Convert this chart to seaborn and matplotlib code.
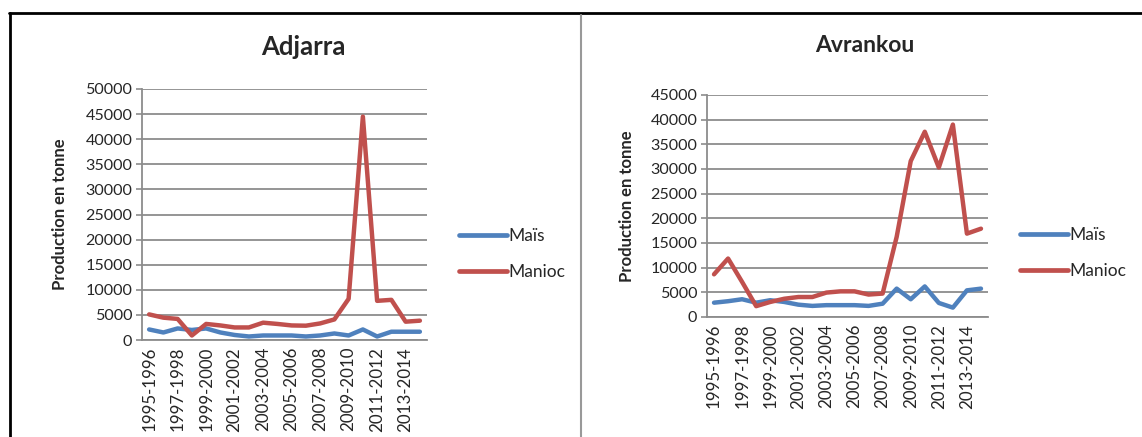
import numpy as np
import pandas as pd
import seaborn as sns
import matplotlib.pyplot as plt
from matplotlib.lines import Line2D

# Agricultural campaigns (20 seasons)
campagnes = [f"{y}-{y + 1}" for y in range(1995, 2015)]

# Production (tonnes) - Adjarra
adjarra_mais = [2100, 1500, 2300, 2000, 2300, 1500, 1000, 700, 900, 900,
                900, 700, 900, 1300, 900, 2100, 700, 1650, 1650, 1650]
adjarra_manioc = [5100, 4450, 4200, 900, 3200, 2900, 2500, 2500, 3450, 3200,
                  2900, 2850, 3300, 4100, 8200, 44500, 7800, 8000, 3650, 3850]

# Production (tonnes) - Avrankou
avrankou_mais = [2900, 3200, 3600, 2900, 3400, 3050, 2500, 2250, 2400, 2400,
                 2400, 2250, 2700, 5750, 3600, 6200, 2850, 1900, 5400, 5750]
avrankou_manioc = [8650, 11850, 7100, 2200, 3050, 3700, 4050, 4050, 4950, 5200,
                   5200, 4550, 4750, 16250, 31600, 37550, 30300, 39000, 16900, 17900]

cultures = ["Maïs", "Manioc"]
couleurs = ["#4F81BD", "#C0504D"]


def long_table(mais, manioc):
    n = len(campagnes)
    return pd.DataFrame({
        "idx": list(range(n)) * 2,
        "Culture": [cultures[0]] * n + [cultures[1]] * n,
        "Production": list(mais) + list(manioc),
    })


sns.set_theme(style="white")
plt.rcParams["font.family"] = ["Lato", "DejaVu Sans"]

W, H = 1142, 437
fig = plt.figure(figsize=(W / 100, H / 100), dpi=100)


def px_axes(x0, y0, x1, y1):
    return fig.add_axes([x0 / W, 1 - y1 / H, (x1 - x0) / W, (y1 - y0) / H])


panels = [
    dict(title="Adjarra", data=long_table(adjarra_mais, adjarra_manioc),
         box=(142, 89, 427, 340), ymax=50000, title_xy=(303, 47), tsize=18.5,
         ylab_x=60, leg=(459, 228)),
    dict(title="Avrankou", data=long_table(avrankou_mais, avrankou_manioc),
         box=(707, 95, 988, 317), ymax=45000, title_xy=(865, 46), tsize=16.5,
         ylab_x=627, leg=(1020, 227)),
]

grid_col = "#8C8C8C"
for p in panels:
    ax = px_axes(*p["box"])
    sns.lineplot(data=p["data"], x="idx", y="Production", hue="Culture",
                 hue_order=cultures, palette=couleurs, linewidth=3.2,
                 ax=ax, legend=False)
    ax.set_xlim(-0.5, len(campagnes) - 0.5)
    ax.set_ylim(0, p["ymax"])
    ax.set_yticks(np.arange(0, p["ymax"] + 1, 5000))
    ax.yaxis.grid(True, color=grid_col, linewidth=1.3)
    ax.xaxis.grid(False)
    ax.set_xticks(range(0, len(campagnes), 2))
    ax.set_xticklabels(campagnes[::2], rotation=90, fontsize=12.2)
    ax.tick_params(axis="y", labelsize=11.6, length=4, color=grid_col,
                   width=1.2, left=True, pad=3)
    ax.tick_params(axis="x", length=0, pad=5)
    for s in ["top", "right"]:
        ax.spines[s].set_visible(False)
    for s in ["left", "bottom"]:
        ax.spines[s].set_color(grid_col)
        ax.spines[s].set_linewidth(1.3)
    ax.set_xlabel("")
    ax.set_ylabel("")
    fig.text(p["ylab_x"] / W, 1 - ((p["box"][1] + p["box"][3]) / 2) / H,
             "Production en tonne", rotation=90, ha="center", va="center",
             fontsize=12, fontweight="bold")
    fig.text(p["title_xy"][0] / W, 1 - p["title_xy"][1] / H, p["title"],
             ha="center", va="center", fontsize=p["tsize"], fontweight="bold")
    handles = [Line2D([], [], color=c, linewidth=3.4, solid_capstyle="round")
               for c in couleurs]
    fig.legend(handles, cultures, loc="upper left",
               bbox_to_anchor=(p["leg"][0] / W, 1 - p["leg"][1] / H),
               frameon=False, fontsize=12.5, handlelength=2.75,
               handletextpad=0.1, labelspacing=1.15, borderaxespad=0,
               borderpad=0)

# Table-cell borders around the two charts
fig.add_artist(Line2D([9 / W, 1], [1 - 13 / H, 1 - 13 / H],
                      transform=fig.transFigure, color="black", linewidth=2))
fig.add_artist(Line2D([10 / W, 10 / W], [0, 1 - 13 / H],
                      transform=fig.transFigure, color="black", linewidth=2))
fig.add_artist(Line2D([581 / W, 581 / W], [0, 1 - 15 / H],
                      transform=fig.transFigure, color="#999999", linewidth=1.5))

fig.savefig("out.png", dpi=100, facecolor="white")
